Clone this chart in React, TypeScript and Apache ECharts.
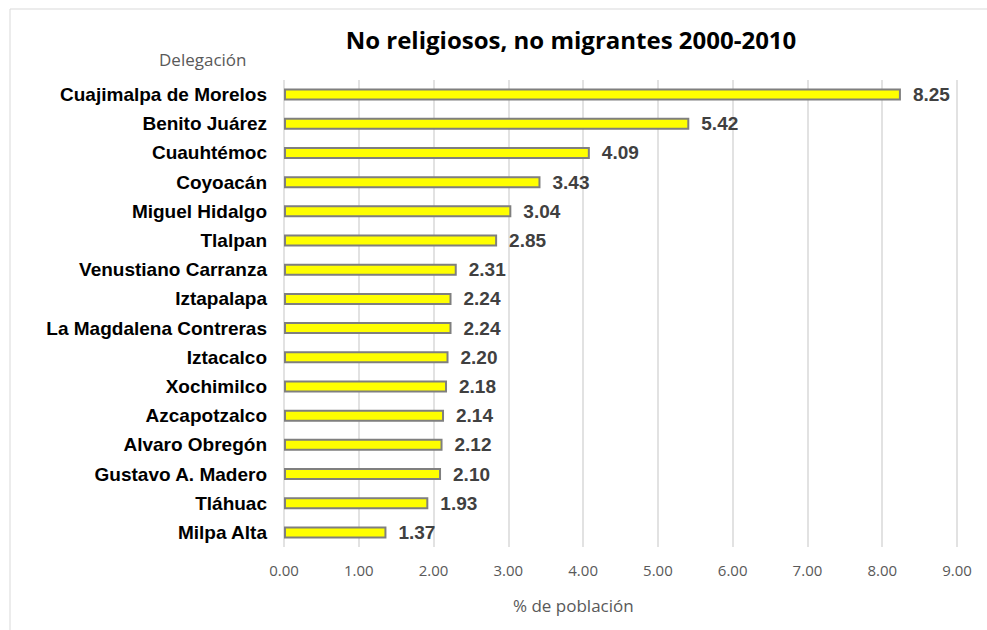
import React, { useEffect, useRef } from "react";
import * as echarts from "echarts";

const categories = [
  "Cuajimalpa de Morelos",
  "Benito Juárez",
  "Cuauhtémoc",
  "Coyoacán",
  "Miguel Hidalgo",
  "Tlalpan",
  "Venustiano Carranza",
  "Iztapalapa",
  "La Magdalena Contreras",
  "Iztacalco",
  "Xochimilco",
  "Azcapotzalco",
  "Alvaro Obregón",
  "Gustavo A. Madero",
  "Tláhuac",
  "Milpa Alta",
];
const values = [8.25, 5.42, 4.09, 3.43, 3.04, 2.85, 2.31, 2.24, 2.24, 2.2, 2.18, 2.14, 2.12, 2.1, 1.93, 1.37];
const titleText = "No religiosos, no migrantes 2000-2010";
const yAxisTitle = "Delegación";
const xAxisTitle = "% de población";

export default function App() {
  const ref = useRef<HTMLDivElement>(null);
  useEffect(() => {
    if (!ref.current) return;
    const chart = echarts.init(ref.current, null, { renderer: "svg" });
    chart.setOption({
      animation: false,
      backgroundColor: "#ffffff",
      title: {
        text: titleText,
        left: 566,
        top: 22,
        textAlign: "center",
        textStyle: { fontFamily: "Open Sans", fontWeight: "bold", fontSize: 24, color: "#000000" },
      },
      graphic: [
        {
          type: "rect",
          shape: { x: 10, y: 9, width: 1200, height: 900 },
          style: { fill: "none", stroke: "#d9d9d9", lineWidth: 1 },
          silent: true,
        },
        {
          type: "text",
          left: 159,
          top: 51,
          style: { text: yAxisTitle, fontFamily: "Open Sans", fontSize: 17, fill: "#595959" },
        },
        {
          type: "text",
          left: 513,
          top: 597,
          style: { text: xAxisTitle, fontFamily: "Open Sans", fontSize: 17, fill: "#595959" },
        },
      ],
      grid: { left: 284, top: 80, width: 673, height: 467, containLabel: false },
      xAxis: {
        type: "value",
        min: 0,
        max: 9,
        interval: 1,
        axisLine: { show: false },
        axisTick: { show: false },
        splitLine: { show: true, lineStyle: { color: "#d9d9d9", width: 1.5 } },
        axisLabel: {
          formatter: (v: number) => v.toFixed(2),
          fontFamily: "Open Sans",
          fontSize: 15,
          color: "#595959",
          margin: 15,
        },
      },
      yAxis: {
        type: "category",
        data: categories,
        inverse: true,
        axisLine: { show: false },
        axisTick: { show: false },
        axisLabel: {
          fontFamily: "Liberation Sans",
          fontWeight: "bold",
          fontSize: 19,
          color: "#000000",
          margin: 17,
        },
      },
      series: [
        {
          type: "bar",
          data: values,
          barWidth: 12,
          itemStyle: { color: "#ffff00", borderColor: "#7f7f7f", borderWidth: 2 },
          label: {
            show: true,
            position: "right",
            distance: 12,
            formatter: (p: any) => Number(p.value).toFixed(2),
            fontFamily: "Liberation Sans",
            fontWeight: "bold",
            fontSize: 19,
            color: "#404040",
          },
        },
      ],
    });
    return () => chart.dispose();
  }, []);
  return <div ref={ref} style={{ position: "absolute", left: 0, top: 0, width: 987, height: 630 }} />;
}
